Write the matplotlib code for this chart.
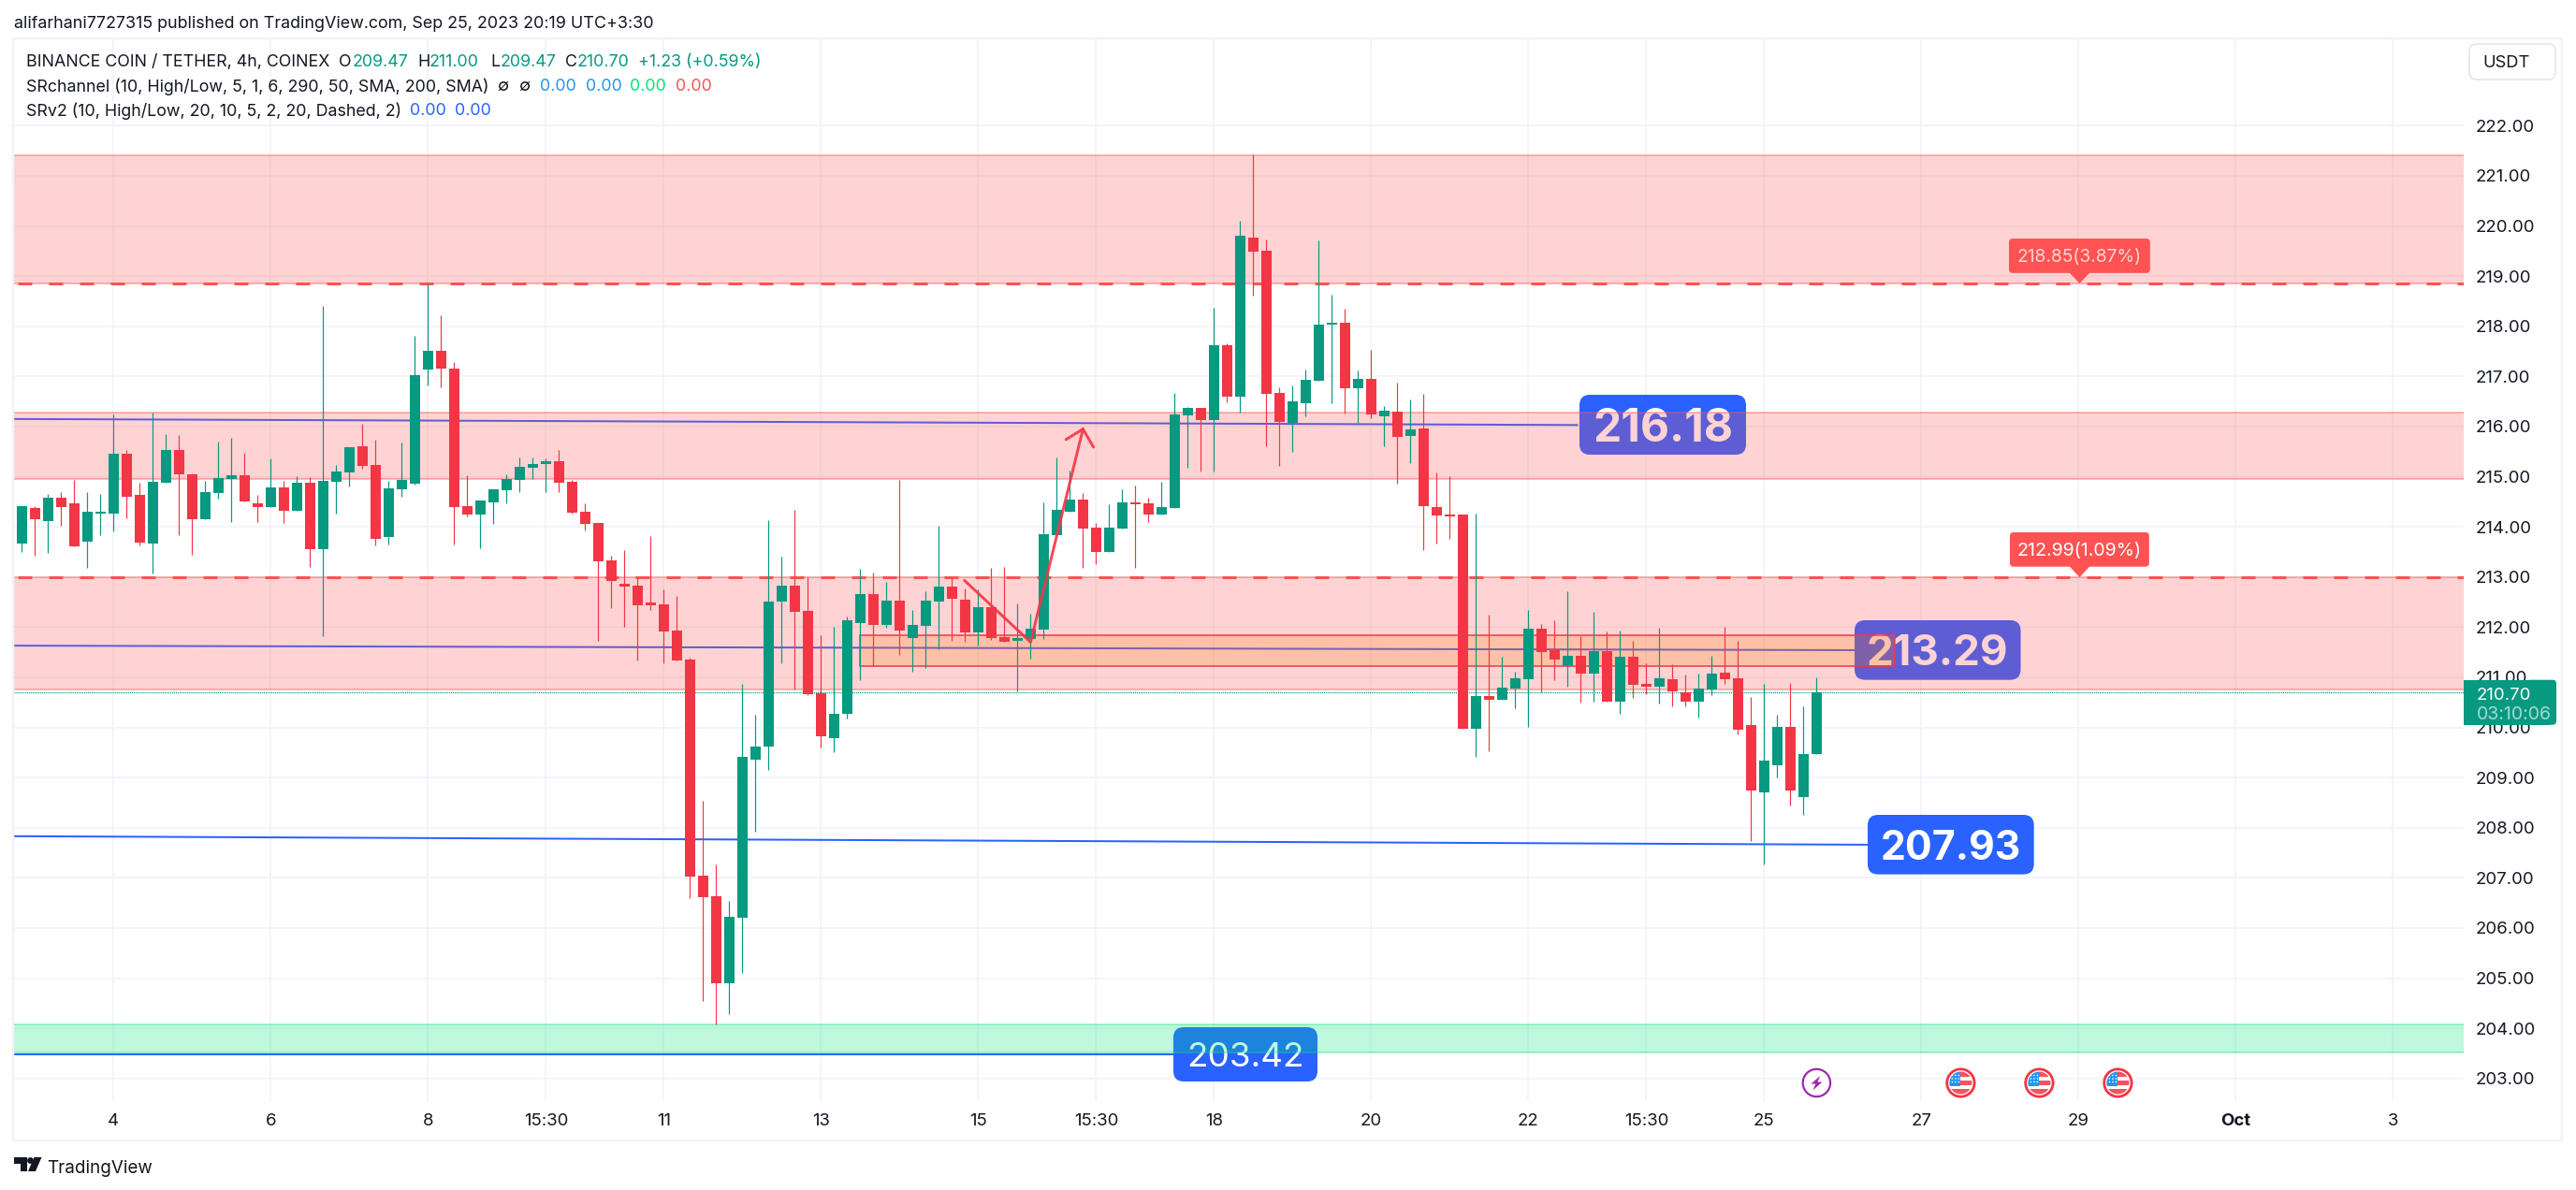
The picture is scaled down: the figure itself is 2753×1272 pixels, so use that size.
import numpy as np
import matplotlib
matplotlib.use("Agg")
import matplotlib.pyplot as plt
from matplotlib.patches import FancyBboxPatch, Rectangle, Circle, Polygon
from matplotlib.transforms import Affine2D
from matplotlib.textpath import TextPath
from matplotlib.font_manager import FontProperties

open_ = [213.67,214.38,214.11,214.58,214.47,213.70,214.26,214.26,215.46,214.64,
213.67,214.88,215.53,215.05,214.15,214.67,214.95,215.03,214.47,214.39,
214.79,214.32,214.88,213.55,214.90,215.08,215.61,215.23,213.80,214.75,
214.86,217.14,217.51,217.15,214.41,214.24,214.49,214.73,214.93,215.18,
215.25,215.31,214.90,214.30,214.08,213.33,212.86,212.83,212.49,212.46,
211.93,211.36,207.04,206.63,204.90,206.21,209.36,209.62,212.51,212.82,
212.32,210.68,209.78,210.27,212.08,212.66,212.04,212.53,211.78,212.03,
212.51,212.81,212.54,211.89,212.40,211.80,211.72,211.76,211.95,213.83,
214.30,214.54,213.98,213.50,213.97,214.49,214.47,214.24,214.38,216.22,
216.37,216.13,217.62,216.60,219.77,219.51,216.67,216.07,216.46,216.91,
218.03,218.07,216.76,216.95,216.20,216.30,215.81,215.96,214.39,214.24,
214.24,209.97,210.63,210.55,210.77,210.96,211.97,211.56,211.23,211.43,
211.07,211.52,210.51,211.41,210.87,210.81,210.96,210.70,210.51,210.76,
211.09,210.98,210.05,208.70,209.24,210.01,208.61,209.47]
close = [214.41,214.15,214.58,214.39,213.61,214.30,214.30,215.46,214.60,213.68,
214.90,215.53,215.05,214.15,214.69,214.97,215.03,214.51,214.39,214.79,
214.32,214.88,213.55,214.92,215.10,215.59,215.21,213.76,214.77,214.93,
217.02,217.51,217.15,214.39,214.24,214.52,214.75,214.95,215.20,215.25,
215.31,214.88,214.28,214.06,213.31,212.92,212.81,212.43,212.43,211.91,
211.33,207.03,206.61,204.90,206.22,209.42,209.62,212.51,212.82,212.31,
210.66,209.82,210.27,212.14,212.66,212.04,212.53,211.93,212.04,212.53,
212.81,212.57,211.89,212.40,211.78,211.71,211.78,211.97,213.85,214.34,
214.54,213.97,213.50,213.98,214.49,214.45,214.24,214.39,216.24,216.37,
216.13,217.62,216.60,219.80,219.49,216.65,216.09,216.50,216.93,218.03,
218.07,216.76,216.95,216.24,216.32,215.79,215.94,214.41,214.23,214.21,
209.97,210.63,210.55,210.79,210.98,211.97,211.50,211.35,211.43,211.07,
211.52,210.51,211.41,210.85,210.81,210.98,210.72,210.51,210.77,211.07,
210.96,209.95,208.74,209.34,210.01,208.74,209.47,210.70]
high = [214.41,214.41,214.65,214.69,214.93,214.69,214.65,216.24,215.53,214.88,
216.28,215.85,215.83,215.07,214.92,215.70,215.77,215.48,214.64,215.36,
214.92,215.01,214.99,218.41,215.23,215.59,216.05,215.74,214.92,215.68,
217.80,218.85,218.22,217.29,215.03,214.52,214.75,215.05,215.38,215.38,
215.36,215.53,214.93,214.47,214.08,213.42,213.54,212.99,213.82,212.75,
212.62,211.39,208.54,207.27,206.54,210.87,210.25,214.13,213.41,214.34,
212.99,211.84,212.01,212.21,213.16,213.09,212.90,214.93,212.34,212.71,
214.02,212.99,212.77,212.75,213.18,213.20,212.47,212.26,214.48,215.38,
215.12,214.67,214.08,214.45,214.75,214.82,214.58,214.90,216.67,216.39,
216.37,218.37,217.66,220.10,221.43,219.73,216.78,216.82,217.14,219.71,
218.63,218.35,217.12,217.53,216.41,216.88,216.54,216.65,215.08,215.01,
214.24,214.26,212.25,211.41,211.11,212.34,212.06,212.14,212.71,211.82,
212.30,211.91,211.93,211.73,211.28,211.99,211.26,211.05,211.07,211.43,
212.01,211.73,210.61,210.87,210.25,210.89,210.42,211.00]
low = [213.50,213.42,213.48,214.02,213.61,213.18,213.83,213.91,214.17,213.63,
213.07,214.88,213.83,213.44,214.15,214.56,214.10,214.51,214.10,214.39,
214.08,214.32,213.20,211.82,214.26,214.80,215.16,213.63,213.65,214.60,
214.84,216.82,216.78,213.65,214.21,213.57,214.06,214.47,214.69,214.95,
214.69,214.69,214.26,213.93,211.73,212.38,212.01,211.33,212.34,211.27,
211.33,206.60,204.54,204.07,204.28,205.10,207.92,209.15,211.27,210.76,
210.64,209.60,209.50,210.18,210.94,211.23,211.99,211.44,211.11,211.19,
211.56,211.72,211.71,211.63,211.75,211.71,210.71,211.37,211.76,213.83,
214.30,213.18,213.26,213.50,213.97,213.18,214.10,214.24,214.38,215.18,
215.10,215.10,216.48,216.28,218.61,215.61,215.21,215.49,216.20,216.91,
216.46,216.26,216.07,216.17,215.61,214.86,215.27,213.54,213.67,213.76,
209.97,209.41,209.52,210.55,210.38,210.01,210.70,210.94,210.81,210.49,
210.51,210.51,210.27,210.59,210.66,210.48,210.42,210.42,210.20,210.64,
210.87,209.86,207.73,207.27,209.00,208.44,208.26,209.47]

x_ticks = [7,19,31,40,49,61,73,82,91,103,115,124,133,145,157,169,181]
x_labels = ["4","6","8","15:30","11","13","15","15:30","18","20","22","15:30","25","27","29","Oct","3"]
y_ticks = list(range(203,223))

red_zones = [(218.85,221.41),(214.96,216.27),(210.75,212.99)]
green_zone = (203.51,204.07)
dashed_levels = [218.85,212.99]
last_price = 210.70
box_zone = (211.23,211.84)
box_span = (64,143)

trend_x = [(-0.6,118.8),(-0.6,139.9),(-0.6,140.9),(-0.6,87.9)]
trend_y = [(216.15,216.03),(211.63,211.54),(207.83,207.66),(203.48,203.48)]

pattern_i = [71.95,77,81]
pattern_p = [212.93,211.70,215.95]
head_i = [79.7,81,81.8]
head_p = [215.74,215.95,215.59]

event_bolt = [137]
event_flags = [148,154,160]

GREEN="#089981"; RED="#f23645"; BLUE="#2962ff"; ZRED="#ff5252"; ZGREEN="#00e676"; INK="#131722"; GRID="#f0f3fa"
FONT=['Inter','DejaVu Sans']
W,H=2753,1272
plt.rcParams['font.family']=FONT

fig=plt.figure(figsize=(W/100,H/100),dpi=100,facecolor='white')
L,R,T,B=15,2633,41,1176.7
ax=fig.add_axes([L/W,1-B/H,(R-L)/W,(B-T)/H])
px=Affine2D().scale(1,-1).translate(0,H)
PT=0.72

def fit(s,w,weight='normal'):
    fp=FontProperties(family='Inter',weight=weight)
    return w*72/TextPath((0,0),s,size=100,prop=fp).get_extents().width

def txt(x,y,s,size,color=INK,ha='left',weight='normal',z=12):
    return ax.text(x,y,s,transform=px,fontsize=size,color=color,ha=ha,va='center_baseline',weight=weight,zorder=z,clip_on=False)

def box(x0,y0,x1,y1,color,r,z):
    p=FancyBboxPatch((x0+r,y0+r),x1-x0-2*r,y1-y0-2*r,boxstyle=f"round,pad={r},rounding_size={r}",fc=color,ec='none',transform=px,zorder=z,clip_on=False)
    ax.add_patch(p); return p

n=len(close)
xs=np.arange(n)
opn=np.array(open_);cls=np.array(close)
colors=[GREEN if c>=o else RED for o,c in zip(opn,cls)]
ax.vlines(xs,low,high,colors=colors,linewidth=1.2*PT,zorder=6)
ax.bar(xs,np.abs(cls-opn),bottom=np.minimum(opn,cls),width=11/14,color=colors,linewidth=0,zorder=6.1)

ax.set_xlim((L-23.4)/14,(R-23.4)/14)
ax.set_ylim(222-(B-134.3)/53.6,222+(134.3-T)/53.6)

ax.set_axisbelow(True)
ax.yaxis.tick_right()
ax.set_yticks(y_ticks,[f"{v:.2f}" for v in y_ticks])
ax.set_xticks(x_ticks,x_labels)
tsize=fit("222.00",60.5)
ax.tick_params(axis='both',length=0,labelsize=tsize,labelcolor=INK)
ax.tick_params(axis='y',pad=13*PT)
ax.tick_params(axis='x',pad=13*PT)
ax.grid(True,color=GRID,linewidth=1.6*PT)
for lab in ax.get_xticklabels():
    if lab.get_text()=="Oct":
        lab.set_fontweight('bold')
for s in ax.spines.values():
    s.set_visible(False)

for (x0,x1),(y0,y1) in zip(trend_x,trend_y):
    ax.plot([x0,x1],[y0,y1],color=BLUE,linewidth=2*PT,zorder=2,solid_capstyle='butt')

labels=[("216.18",1688,422,1866,486,'bold',145),
        ("213.29",1982,663,2159.5,726.7,'bold',147),
        ("207.93",1996,871,2173.7,934.6,'bold',146),
        ("203.42",1254,1098,1408,1156,'normal',120)]
for s,x0,y0,x1,y1,wt,w in labels:
    box(x0,y0,x1,y1,BLUE,11,3)
    txt((x0+x1)/2,(y0+y1)/2,s,fit(s,w,wt),'white','center',wt,z=3.1)

for s,x0,y0,x1,y1,tip in [("218.85(3.87%)",2147,255,2297.8,291.8,303),("212.99(1.09%)",2148,569,2296.8,605.7,617)]:
    box(x0,y0,x1,y1,ZRED,4,3)
    ax.add_patch(Polygon([(2211,y1-1),(2234,y1-1),(2222.5,tip)],fc=ZRED,ec='none',transform=px,zorder=3,clip_on=False))
    txt((x0+x1)/2,(y0+y1)/2,s,fit(s,130),'white','center',z=3.1)

for lo,hi in red_zones:
    ax.axhspan(lo,hi,facecolor=ZRED,alpha=0.25,linewidth=0,zorder=4)
    for v in (lo,hi):
        ax.axhline(v,color=ZRED,alpha=0.4,linewidth=2*PT,zorder=4.1)
ax.axhspan(green_zone[0],green_zone[1],facecolor=ZGREEN,alpha=0.25,linewidth=0,zorder=4)
for v in green_zone:
    ax.axhline(v,color=ZGREEN,alpha=0.35,linewidth=2*PT,zorder=4.1)

for v in dashed_levels:
    ax.plot([(19-23.4)/14,(R-23.4)/14],[v,v],color=ZRED,linewidth=3*PT,linestyle=(0,(5,6)),zorder=4.5,dash_capstyle='butt')

ax.add_patch(Rectangle((box_span[0],box_zone[0]),box_span[1]-box_span[0],box_zone[1]-box_zone[0],fc=(1,0.46,0,0.2),ec='none',zorder=5))
ax.add_patch(Rectangle((box_span[0],box_zone[0]),box_span[1]-box_span[0],box_zone[1]-box_zone[0],fc='none',ec=RED,linewidth=1.5*PT,zorder=5.1))

ax.axhline(last_price,color=GREEN,linewidth=1.4*PT,linestyle=(0,(0.7,0.7)),zorder=5.5)

ax.plot(pattern_i,pattern_p,color=RED,linewidth=3*PT,alpha=0.9,zorder=7,solid_capstyle='round',solid_joinstyle='round')
ax.plot(head_i,head_p,color=RED,linewidth=3*PT,alpha=0.9,zorder=7,solid_capstyle='round',solid_joinstyle='round')

ax.add_patch(Rectangle((2633,726.7),92,48,fc=GREEN,ec='none',transform=px,zorder=10,clip_on=False))
box(2700,726.7,2732,774.7,GREEN,4,10)
txt(2646.5,741,"210.70",tsize,'white',z=11)
txt(2646.5,762,"03:10:06",fit("03:10:06",78),'#a3dacf',z=11)

b=FancyBboxPatch((2639+8,47+8),92-16,38-16,boxstyle="round,pad=8,rounding_size=8",fc='white',ec='#e0e3eb',linewidth=1.5*PT,transform=px,zorder=11,clip_on=False)
ax.add_patch(b)
txt(2653,66,"USDT",fit("USDT",48),z=12)

fig.add_artist(Rectangle((14,41),2724,1178,fc='none',ec=GRID,linewidth=2.5*PT,transform=px))

header="alifarhani7727315 published on TradingView.com, Sep 25, 2023 20:19 UTC+3:30"
txt(15,24,header,fit(header,682))
ls=fit("BINANCE COIN / TETHER, 4h, COINEX",323)
row1=[(27.5,"BINANCE COIN / TETHER, 4h, COINEX",INK),(362,"O",INK),(377,"209.47",GREEN),(446,"H",INK),(459,"211.00",GREEN),(524,"L",INK),(534.5,"209.47",GREEN),(604,"C",INK),(617,"210.70",GREEN),(682.5,"+1.23 (+0.59%)",GREEN)]
row2=[(27.5,"SRchannel (10, High/Low, 5, 1, 6, 290, 50, SMA, 200, SMA)",INK),(531,"∅",INK),(554,"∅",INK),(577.5,"0.00","#2196f3"),(625.7,"0.00","#2196f3"),(673,"0.00",ZGREEN),(721.6,"0.00",ZRED)]
row3=[(27.5,"SRv2 (10, High/Low, 20, 10, 5, 2, 20, Dashed, 2)",INK),(438,"0.00",BLUE),(486,"0.00",BLUE)]
for yy,row in zip((64.5,90.6,116.7),(row1,row2,row3)):
    for xx,s,c in row:
        txt(xx,yy,s,ls,c)

yy=1157.5
def ix(i): return 23.4+14*i
for i in event_bolt:
    c=ix(i)
    ax.add_patch(Circle((c,yy),14.7,fc='white',ec='#9c27b0',linewidth=2.2*PT,transform=px,zorder=9,clip_on=False))
    ax.add_patch(Polygon([(c+4,yy-7.5),(c-6,yy+1),(c-1,yy+1),(c-4,yy+8),(c+6,yy-1),(c+1,yy-1)],fc='#9c27b0',ec='none',transform=px,zorder=9.1,clip_on=False))
for i in event_flags:
    c=ix(i)
    ax.add_patch(Circle((c,yy),14.7,fc='white',ec=RED,linewidth=2.8*PT,transform=px,zorder=9,clip_on=False))
    clip=Circle((c,yy),12,transform=px)
    parts=[Rectangle((c-13,yy-13),13,16,fc='#2196f3',ec='none'),
           Rectangle((c,yy-13),13,6.3,fc='#f7525f',ec='none'),
           Rectangle((c,yy-2.7),13,5.4,fc='#f7525f',ec='none'),
           Rectangle((c-13,yy+6.7),26,7,fc='#f7525f',ec='none')]
    for p in parts:
        p.set_transform(px);p.set_zorder(9.1);ax.add_patch(p);p.set_clip_path(clip)
    for dx in (-9,-5.5,-2):
        for dy in (-8,-4.5,-1):
            ax.add_patch(Circle((c+dx,yy+dy),0.8,fc='white',ec='none',transform=px,zorder=9.2,clip_on=False))

logo=[Polygon([(15,1237),(29,1237),(29,1252),(22,1252),(22,1244),(15,1244)],fc=INK,ec='none',transform=px),
      Circle((32.5,1240.5),3.4,fc=INK,ec='none',transform=px),
      Polygon([(36.5,1237),(44.5,1237),(38,1252),(30,1252)],fc=INK,ec='none',transform=px)]
for a in logo: fig.add_artist(a)
txt(50,1247,"TradingView",fit("TradingView",111),INK)

fig.savefig("out.png",dpi=100,facecolor='white')
